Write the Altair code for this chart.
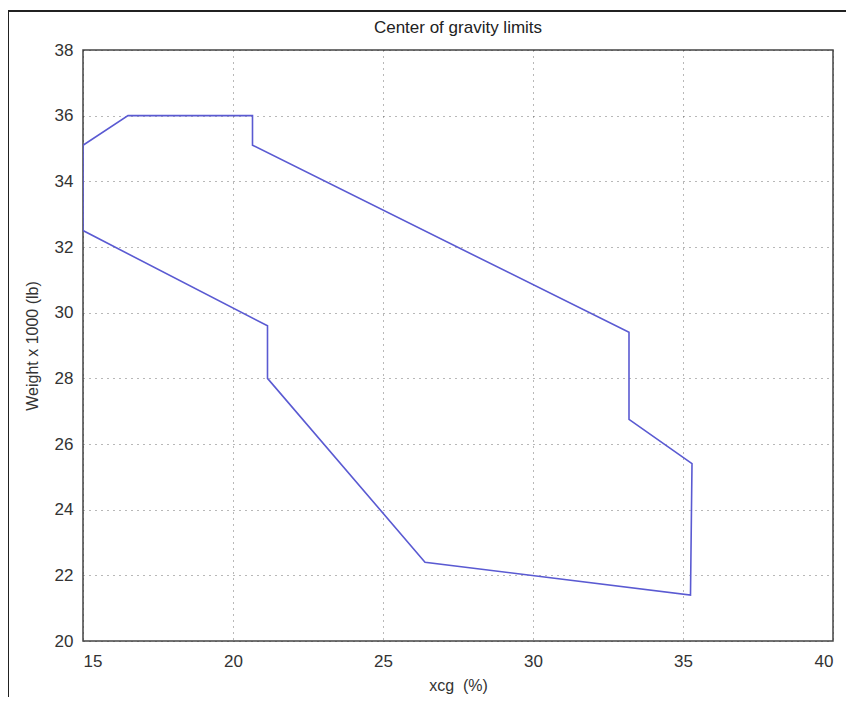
import altair as alt
import pandas as pd

xcg = [15.0, 16.5, 20.65, 20.65, 33.2, 33.2, 35.3, 35.25, 26.4, 21.15, 21.15, 15.0, 15.0]
weight = [35.1, 36.0, 36.0, 35.1, 29.4, 26.75, 25.4, 21.4, 22.4, 28.0, 29.6, 32.5, 35.1]
title_text = ["Center of gravity limits"]

df = pd.DataFrame({"xcg": xcg, "weight": weight, "order": list(range(len(xcg)))})
tdf = pd.DataFrame({"t": title_text})

FONT = "Liberation Sans, Arial, sans-serif"

line = alt.Chart(df).mark_line(color="#5a5ad2", strokeWidth=1.6, clip=True).encode(
    x=alt.X("xcg:Q", scale=alt.Scale(domain=[15, 40], nice=False, zero=False),
            axis=alt.Axis(values=[15, 20, 25, 30, 35, 40], title="xcg\u00a0 (%)",
                          titlePadding=8, labelPadding=12)),
    y=alt.Y("weight:Q", scale=alt.Scale(domain=[20, 38], nice=False, zero=False),
            axis=alt.Axis(values=list(range(20, 39, 2)), title="Weight x 1000 (lb)",
                          titlePadding=14, labelPadding=10)),
    order="order:Q",
)

title = alt.Chart(tdf).mark_text(font=FONT, fontSize=17, color="#222", baseline="middle",
                                 align="center").encode(
    text="t:N", x=alt.value(375), y=alt.value(-22)
)

frame_top = alt.Chart(df).mark_rule(color="#222", strokeWidth=1.5, clip=False).encode(
    x=alt.value(-75), x2=alt.value(763), y=alt.value(-39)
)
frame_left = alt.Chart(df).mark_rule(color="#222", strokeWidth=1.5, clip=False).encode(
    x=alt.value(-75), y=alt.value(-39), y2=alt.value(647)
)

chart = alt.layer(line, title, frame_top, frame_left).properties(
    width=750, height=591,
    autosize=alt.AutoSizeParams(type="none"),
    padding={"left": 75, "top": 42, "right": 13, "bottom": 56},
).configure_view(
    stroke="#444", strokeWidth=1.5
).configure_axis(
    grid=True, gridColor="#333", gridDash=[1, 5], gridOpacity=0.7, gridWidth=1,
    domain=False, ticks=False,
    labelFont=FONT, labelFontSize=17, labelColor="#333",
    titleFont=FONT, titleFontSize=16, titleFontWeight="normal", titleColor="#333",
)

chart.save("out.html", embed_options={"renderer": "svg", "actions": False})
